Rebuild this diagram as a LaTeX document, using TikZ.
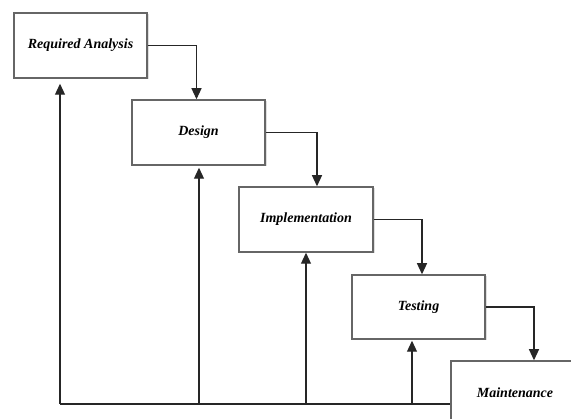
\documentclass[tikz,border=0pt]{standalone}
\usepackage{fontspec}
\setmainfont{Liberation Serif}
\usetikzlibrary{arrows.meta,shadows,calc}
\begin{document}
\begin{tikzpicture}[x=1pt,y=-1pt,
  stage/.style={draw=black!60, line width=1.5pt, fill=white, minimum width=133pt, minimum height=65pt,
    font=\bfseries\itshape\fontsize{14}{16}\selectfont, inner sep=0pt,
    drop shadow={opacity=0.25, shadow xshift=1.5pt, shadow yshift=-1.5pt}},
  flow/.style={draw=black!85, line width=1.1pt, -{Triangle[length=11pt,width=10pt]}},
  link/.style={draw=black!85, line width=1.1pt}]
\clip (0,0) rectangle (571,419);
\fill[white] (0,0) rectangle (571,419);
\node[stage] (ra) at (80.5,45.5) {Required Analysis};
\node[stage] (de) at (198.5,132.5) {Design};
\node[stage, minimum width=134pt] (im) at (306,219.5) {Implementation};
\node[stage, minimum height=64pt] (te) at (418.5,307) {Testing};
\node[stage, minimum width=128pt, minimum height=64pt] (ma) at (515,393) {Maintenance};
\coordinate (b0) at (60,404);
\coordinate (b1) at (199,404);
\coordinate (b2) at (306,404);
\coordinate (b3) at (412,404);
\draw[flow] (ra.east) -| ($(de.north)+(-2,0)$);
\draw[flow] (de.east) -| ($(im.north)+(11,0)$);
\draw[flow] (im.east) -| ($(te.north)+(3.5,0)$);
\draw[flow] (te.east) -| ($(ma.north)+(19,0)$);
\draw[link] (b0) -- (ma.west |- b0);
\draw[flow] (b0) -- ($(ra.south -| b0)+(0,5)$);
\draw[flow] (b1) -- ($(de.south -| b1)+(0,2)$);
\draw[flow] (b2) -- (im.south -| b2);
\draw[flow] (b3) -- ($(te.south -| b3)+(0,1)$);
\end{tikzpicture}
\end{document}
